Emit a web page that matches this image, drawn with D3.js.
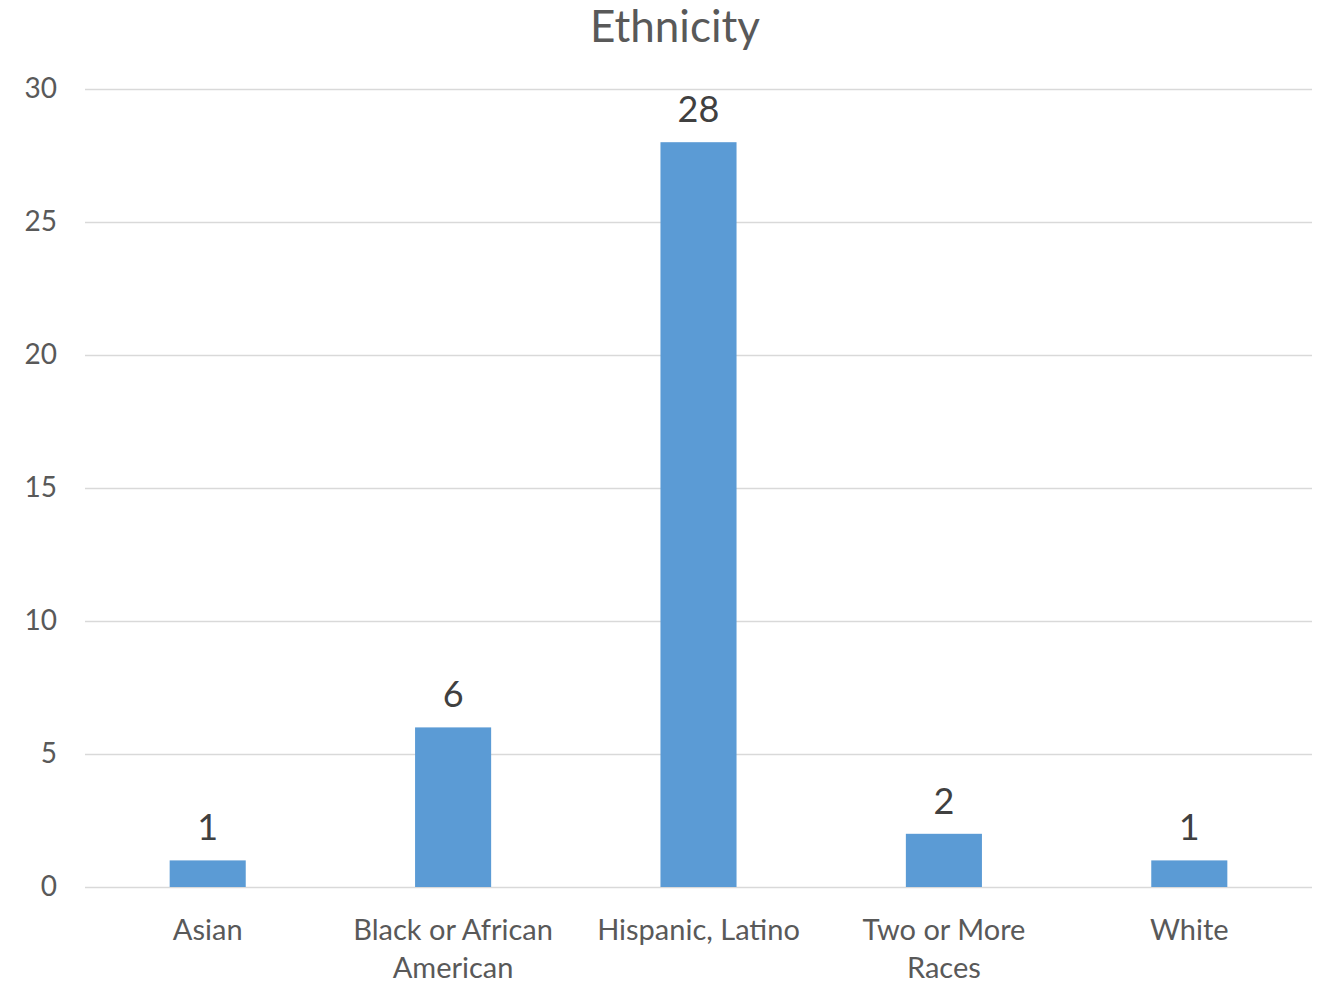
<!DOCTYPE html>
<html><head><meta charset="utf-8">
<script src="https://cdn.jsdelivr.net/npm/d3@7"></script>
<style>html,body{margin:0;padding:0;background:#fff;}svg{display:block;font-family:Lato,"Open Sans",sans-serif;}</style>
</head><body>
<svg id="chart" width="1319" height="988"></svg>
<script>
const categories = ["Asian", "Black or African American", "Hispanic, Latino", "Two or More Races", "White"];
const categoryLines = [["Asian"], ["Black or African", "American"], ["Hispanic, Latino"], ["Two or More", "Races"], ["White"]];
const values = [1, 6, 28, 2, 1];
const yTicks = [0, 5, 10, 15, 20, 25, 30];
const title = "Ethnicity";

(function () {
const svg = d3.select("#chart");
const pLeft = 85, pRight = 1312, pTop = 89, pBottom = 887;
const x = d3.scaleBand().domain(categories).range([pLeft, pRight]).paddingInner(0.69).paddingOuter(0.345);
const y = d3.scaleLinear().domain([0, 30]).range([pBottom, pTop]);

svg.append("text").attr("x", 675).attr("y", 42).attr("text-anchor", "middle")
  .attr("font-size", 44).attr("fill", "#595959").text(title);

// gridlines
svg.append("g").selectAll("line").data(yTicks).join("line")
  .attr("x1", pLeft).attr("x2", pRight)
  .attr("y1", d => Math.round(y(d)) + 0.5).attr("y2", d => Math.round(y(d)) + 0.5)
  .attr("stroke", "#D9D9D9").attr("stroke-width", 1.5);

// y axis labels
const yAxis = d3.axisLeft(y).tickValues(yTicks).tickSize(0).tickPadding(0);
const ya = svg.append("g").attr("transform", `translate(57,0)`).call(yAxis);
ya.select(".domain").remove();
ya.selectAll("text").attr("font-size", 28).attr("fill", "#595959").attr("font-family", "Lato, 'Open Sans', sans-serif");

// bars
svg.append("g").selectAll("rect").data(values).join("rect")
  .attr("x", (d, i) => x(categories[i]))
  .attr("width", x.bandwidth())
  .attr("y", d => y(d))
  .attr("height", d => y(0) - y(d))
  .attr("fill", "#5B9BD5");

// data labels
svg.append("g").selectAll("text").data(values).join("text")
  .attr("x", (d, i) => x(categories[i]) + x.bandwidth() / 2)
  .attr("y", d => y(d) - 20)
  .attr("text-anchor", "middle").attr("font-size", 36).attr("fill", "#404040")
  .text(d => d);

// category labels
const cg = svg.append("g").selectAll("text").data(categories).join("text")
  .attr("x", d => x(d) + x.bandwidth() / 2)
  .attr("y", 940)
  .attr("text-anchor", "middle").attr("font-size", 29).attr("fill", "#595959");
cg.each(function(d, i) {
  const t = d3.select(this);
  categoryLines[i].forEach((ln, j) => {
    t.append("tspan").attr("x", x(d) + x.bandwidth() / 2).attr("dy", j === 0 ? 0 : 38).text(ln);
  });
});
})();
</script>
</body></html>
